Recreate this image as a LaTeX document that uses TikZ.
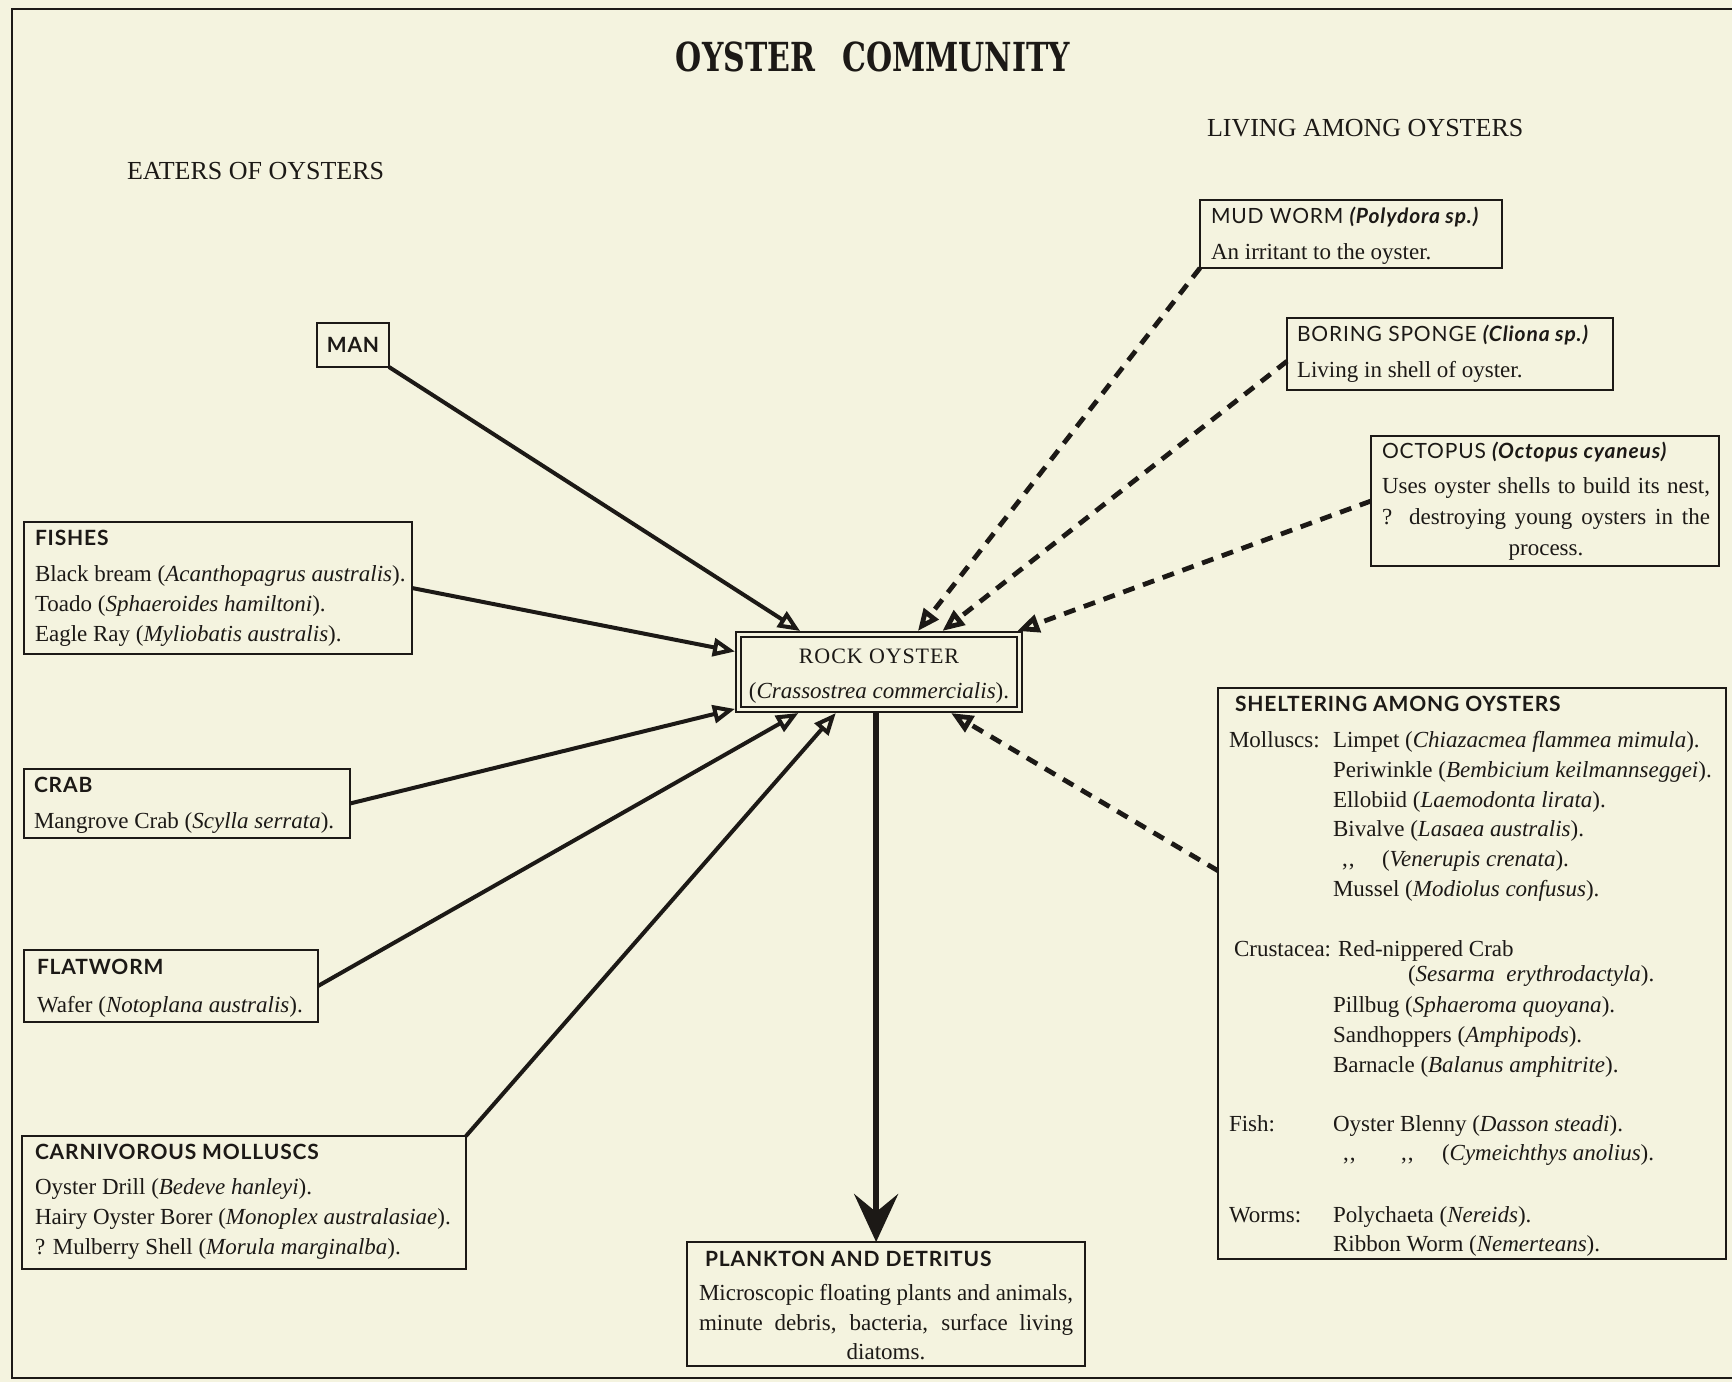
\documentclass[tikz,border=0pt]{standalone}
\usepackage{fontspec}
\usepackage{graphicx}
\setmainfont{Liberation Serif}
\newfontfamily\hdfont[LetterSpace=4]{Lato}
\newfontfamily\titlefont{DejaVu Serif}
\newfontfamily\spacedserif[LetterSpace=4]{Liberation Serif}
\usetikzlibrary{arrows.meta,calc}
\definecolor{paper}{RGB}{244,243,223}
\definecolor{ink}{RGB}{28,25,22}
\newcommand\mybox[5]{\node[box, minimum width={(#4-#2)*0.5pt}, minimum height={(#5-#3)*0.5pt}] (#1) at (#2,#3) {};}
\newcommand\dittomark{{,}\kern0.5pt{,}}
\begin{document}
\begin{tikzpicture}[x=0.5pt,y=-0.5pt,
  box/.style={draw=ink, line width=1pt, inner sep=0pt, outer sep=0pt, anchor=north west},
  tx/.style={anchor=base west, inner sep=0pt, outer sep=0pt, text=ink, font=\fontsize{11.5}{14}\selectfont},
  hd/.style={anchor=base west, inner sep=0pt, outer sep=0pt, text=ink, font=\hdfont\bfseries\fontsize{10.5}{12}\selectfont},
  hdr/.style={anchor=base west, inner sep=0pt, outer sep=0pt, text=ink, font=\hdfont\fontsize{10.5}{12}\selectfont},
  capt/.style={anchor=base west, inner sep=0pt, outer sep=0pt, text=ink, font=\fontsize{13}{15}\selectfont},
  eat/.style={draw=ink, line width=2pt, -{Triangle[open,length=11pt,width=9pt]}},
  live/.style={draw=ink, line width=2.4pt, dash pattern=on 6pt off 4.5pt, -{Triangle[open,length=11pt,width=9pt]}},
  big/.style={draw=ink, line width=3pt, -{Stealth[length=24pt,width=22pt,inset=9pt]}}
]
\useasboundingbox (0,0) rectangle (1732,1382);
\fill[paper] (0,0) rectangle (1732,1382);
\draw[ink, line width=1pt] (1732,9) -- (12,9) -- (12,1378) -- (1732,1378);

% title and column captions
\node[inner sep=0pt, text=ink, font=\titlefont\bfseries\fontsize{20}{24}\selectfont] (title) at (873,57) {\scalebox{0.75}[1]{OYSTER\hspace{0.9em}COMMUNITY}};
\node[capt] (eaters) at (127,179) {EATERS OF OYSTERS};
\node[capt] (living) at (1207,136) {LIVING AMONG OYSTERS};

% central node
\node[draw=ink, line width=0.9pt, double=paper, double distance=1.6pt, inner sep=0pt, outer sep=1.7pt,
      minimum width=140.6pt, minimum height=37.6pt] (oyster) at (879,672) {};
\node[anchor=base, inner sep=0pt, text=ink, font=\spacedserif\fontsize{11}{13}\selectfont] (oysterH) at (879,663) {ROCK OYSTER};
\node[anchor=base, inner sep=0pt, text=ink, font=\fontsize{11.5}{14}\selectfont] (oysterS) at (879,698) {(\textit{Crassostrea commercialis}).};

% eaters
\node[box, anchor=center, minimum width=36pt, minimum height=22pt, text=ink, font=\hdfont\bfseries\fontsize{10.5}{12}\selectfont] (man) at (353,345) {MAN};

\mybox{fishes}{24}{522}{412}{654}
\node[hd] (fishesH) at (35,545) {FISHES};
\node[tx] (fishes1) at (35,581) {Black bream (\textit{Acanthopagrus australis}).};
\node[tx] (fishes2) at (35,611) {Toado (\textit{Sphaeroides hamiltoni}).};
\node[tx] (fishes3) at (35,641) {Eagle Ray (\textit{Myliobatis australis}).};

\mybox{crab}{24}{769}{350}{838}
\node[hd] (crabH) at (34,792) {CRAB};
\node[tx] (crab1) at (34,828) {Mangrove Crab (\textit{Scylla serrata}).};

\mybox{flat}{24}{950}{318}{1022}
\node[hd] (flatH) at (37,974) {FLATWORM};
\node[tx] (flat1) at (37,1012) {Wafer (\textit{Notoplana australis}).};

\mybox{carn}{22}{1136}{466}{1269}
\node[hd] (carnH) at (35,1159) {CARNIVOROUS MOLLUSCS};
\node[tx] (carn1) at (35,1194) {Oyster Drill (\textit{Bedeve hanleyi}).};
\node[tx] (carn2) at (35,1224) {Hairy Oyster Borer (\textit{Monoplex australasiae}).};
\node[tx] (carn3) at (35,1254) {? Mulberry Shell (\textit{Morula marginalba}).};

% plankton
\mybox{plank}{687}{1242}{1085}{1366}
\node[hd] (plankH) at (705,1266) {PLANKTON AND DETRITUS};
\node[tx] (plank1) at (699,1300) {\makebox[187pt][s]{Microscopic floating plants and animals,}};
\node[tx] (plank2) at (699,1330) {\makebox[187pt][s]{minute debris, bacteria, surface living}};
\node[tx, anchor=base] (plank3) at (886,1359) {diatoms.};

% living among oysters
\mybox{mud}{1200}{200}{1502}{268}
\node[hdr] (mudH) at (1211,223) {MUD WORM {\bfseries\itshape (Polydora sp.)}};
\node[tx] (mud1) at (1211,259) {An irritant to the oyster.};

\mybox{boring}{1287}{318}{1613}{390}
\node[hdr] (boringH) at (1297,341) {BORING SPONGE {\bfseries\itshape (Cliona sp.)}};
\node[tx] (boring1) at (1297,377) {Living in shell of oyster.};

\mybox{octo}{1371}{436}{1719}{566}
\node[hdr] (octoH) at (1382,458) {OCTOPUS {\bfseries\itshape (Octopus cyaneus)}};
\node[tx] (octo1) at (1382,493) {\makebox[164pt][s]{Uses oyster shells to build its nest,}};
\node[tx] (octo2) at (1382,524) {\makebox[164pt][s]{? destroying young oysters in the}};
\node[tx, anchor=base] (octo3) at (1546,555) {process.};

\mybox{shelter}{1218}{688}{1726}{1259}
\node[hd] (shelterH) at (1235,711) {SHELTERING AMONG OYSTERS};
\node[tx] (lMoll) at (1229,747) {Molluscs:};
\node[tx] (s1) at (1333,747) {Limpet (\textit{Chiazacmea flammea mimula}).};
\node[tx] (s2) at (1333,777) {Periwinkle (\textit{Bembicium keilmannseggei}).};
\node[tx] (s3) at (1333,807) {Ellobiid (\textit{Laemodonta lirata}).};
\node[tx] (s4) at (1333,836) {Bivalve (\textit{Lasaea australis}).};
\node[tx] (s5a) at (1342,866) {\dittomark};
\node[tx] (s5) at (1382,866) {(\textit{Venerupis crenata}).};
\node[tx] (s6) at (1333,896) {Mussel (\textit{Modiolus confusus}).};
\node[tx] (lCrus) at (1234,956) {Crustacea:};
\node[tx] (s7) at (1338,956) {Red-nippered Crab};
\node[tx] (s8) at (1408,981) {(\textit{Sesarma\ \ erythrodactyla}).};
\node[tx] (s9) at (1333,1012) {Pillbug (\textit{Sphaeroma quoyana}).};
\node[tx] (s10) at (1333,1042) {Sandhoppers (\textit{Amphipods}).};
\node[tx] (s11) at (1333,1072) {Barnacle (\textit{Balanus amphitrite}).};
\node[tx] (lFish) at (1229,1131) {Fish:};
\node[tx] (s12) at (1333,1131) {Oyster Blenny (\textit{Dasson steadi}).};
\node[tx] (s13a) at (1343,1160) {\dittomark};
\node[tx] (s13b) at (1401,1160) {\dittomark};
\node[tx] (s13) at (1442,1160) {(\textit{Cymeichthys anolius}).};
\node[tx] (lWorm) at (1229,1222) {Worms:};
\node[tx] (s14) at (1333,1222) {Polychaeta (\textit{Nereids}).};
\node[tx] (s15) at (1333,1251) {Ribbon Worm (\textit{Nemerteans}).};

% connectors: eaters of oysters
\draw[eat] (man.south east) -- ($(oyster.north west)!0.226!(oyster.north east)$);
\draw[eat] (fishes.east) -- ($(oyster.north west)!0.25!(oyster.south west)$);
\draw[eat] (crab.east) -- ($(oyster.north west)!0.95!(oyster.south west)$);
\draw[eat] (flat.east) -- ($(oyster.south west)!0.22!(oyster.south east)$);
\draw[eat] (carn.north east) -- ($(oyster.south west)!0.35!(oyster.south east)$);

% connectors: living among oysters
\draw[live] (mud.south west) -- ($(oyster.north west)!0.635!(oyster.north east)$);
\draw[live] ($(boring.north west)!0.6!(boring.south west)$) -- ($(oyster.north west)!0.72!(oyster.north east)$);
\draw[live] (octo.west) -- ($(oyster.north west)!0.98!(oyster.north east)$);
\draw[live] ($(shelter.north west)!0.32!(shelter.south west)$) -- ($(oyster.south west)!0.75!(oyster.south east)$);

% food source
\coordinate (pk) at ($(oyster.south west)!0.49!(oyster.south east)$);
\draw[big] (pk) -- (pk |- plank.north);
\end{tikzpicture}
\end{document}
